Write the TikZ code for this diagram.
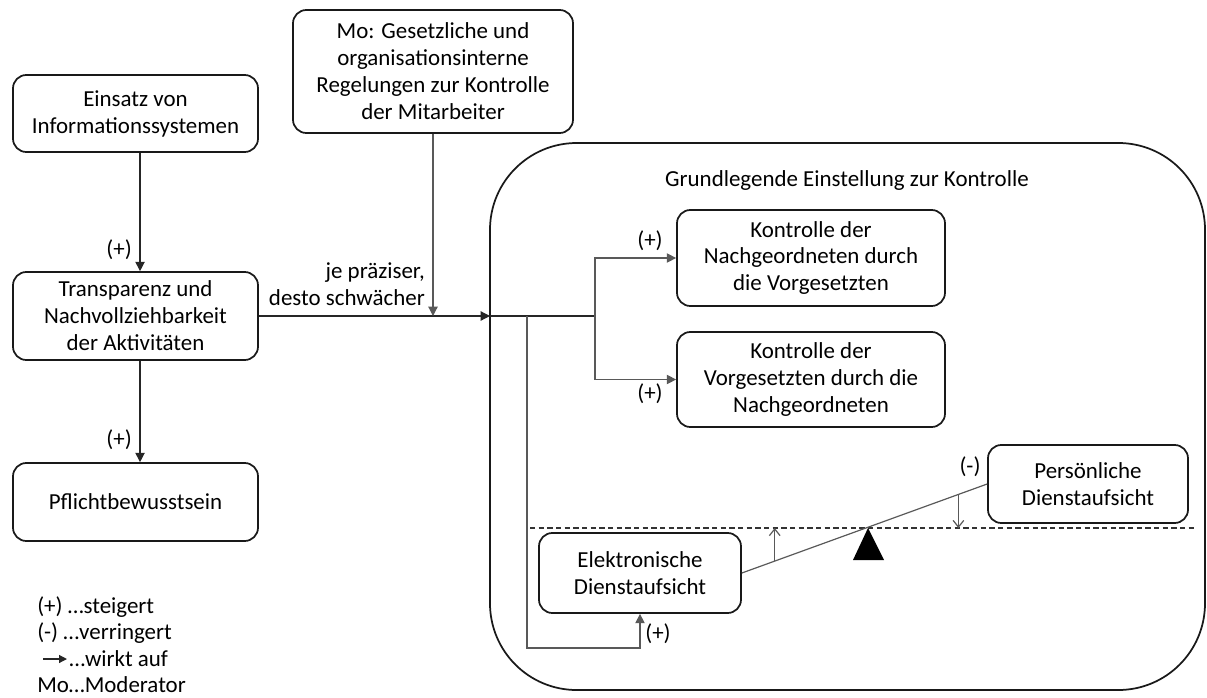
\documentclass[tikz,border=0pt]{standalone}
\usepackage{fontspec}
\setmainfont{Carlito}
\usetikzlibrary{arrows.meta,calc}
\begin{document}
\begin{tikzpicture}[x=0.75pt,y=-0.75pt,
  every node/.style={font=\fontsize{17.2}{20.2}\selectfont, inner sep=0pt},
  box/.style={draw=black!90, line width=1.3pt, rounded corners=10pt, align=center},
  conn/.style={draw=black!85, line width=0.9pt},
  thin/.style={draw=black!65, line width=0.9pt},
  tip/.style={-{Triangle[length=7pt,width=7pt]}},
  open/.style={-{Straight Barb[length=5pt,width=8pt]}}]
\useasboundingbox (0,0) rectangle (1207,697);

% outer frame of the attitude towards control
\draw[line width=1.3pt, black!90, rounded corners=65pt] (490,143) rectangle (1205,690);
\node (title) at (847,181) {Grundlegende Einstellung zur Kontrolle};

% left column
\node[box, minimum width=183.75pt, minimum height=57.75pt] (ein) at (135.5,113.5)
  {Einsatz von\\Informationssystemen};
\node[box, minimum width=183.75pt, minimum height=66pt] (tra) at (135.5,316)
  {Transparenz und\\Nachvollziehbarkeit\\der Aktivitäten};
\node[box, minimum width=183.75pt, minimum height=58.5pt] (pfl) at (135.5,502)
  {Pflichtbewusstsein};

% moderator
\node[box, minimum width=210pt, minimum height=92.25pt] (mo) at (433,71.5)
  {Mo: Gesetzliche und\\organisationsinterne\\Regelungen zur Kontrolle\\der Mitarbeiter};

% control boxes
\node[box, minimum width=201pt, minimum height=72pt] (kn) at (811,258)
  {Kontrolle der\\Nachgeordneten durch\\die Vorgesetzten};
\node[box, minimum width=201pt, minimum height=71.25pt] (kv) at (811,379.5)
  {Kontrolle der\\Vorgesetzten durch die\\Nachgeordneten};
\node[box, minimum width=150pt, minimum height=58.5pt] (pers) at (1088,484)
  {Persönliche\\Dienstaufsicht};
\node[box, minimum width=151.5pt, minimum height=60pt] (elek) at (640,573)
  {Elektronische\\Dienstaufsicht};

% connector points
\coordinate (bigL) at (490,316);
\coordinate (moT) at (433,316);
\coordinate (split) at (595,316);
\coordinate (loopS) at (527,316);
\coordinate (loopB) at (527,648);

% left column arrows
\draw[conn,tip] ([xshift=3.4pt]ein.south) -- ([xshift=3.4pt]tra.north);
\node[anchor=east] (p1) at (132,250) {(+)};
\draw[conn,tip] ([xshift=3.4pt]tra.south) -- ([xshift=3.4pt]pfl.north);
\node[anchor=east] (p2) at (132,440) {(+)};

% main effect into the frame
\draw[conn,tip] (tra.east) -- (bigL);
\draw[thin,tip] (mo.south) -- (moT);
\node[anchor=east, align=right] (mod) at (425,284) {je präziser,\\desto schwächer};

% branches inside the frame
\draw[conn] (bigL) -- (split);
\draw[thin,tip] (split) |- (kn.west);
\draw[thin,tip] (split) |- (kv.west);
\node (p3) at (650,241) {(+)};
\node (p4) at (650,394) {(+)};
\draw[thin,tip] (loopS) -- (loopB) -| (elek.south);
\node (p5) at (658,634) {(+)};

% seesaw
\coordinate (dl) at (530,528);
\coordinate (dr) at (1195,528);
\draw[black!80, line width=0.8pt, dash pattern=on 4pt off 2.5pt] (dl) -- (dr);
\draw[thin] (elek.east) -- (pers.west);
\fill (868,528) -- (884,560) -- (853,560) -- cycle;
\coordinate (upb) at ($(elek.east)!0.134!(pers.west)$);
\coordinate (dnb) at ($(elek.east)!0.883!(pers.west)$);
\draw[thin,open] (upb) -- (upb |- dl);
\draw[thin,open] (dnb) -- (dnb |- dl);
\node (m1) at (970,467) {(-)};

% legend
\node[anchor=west] (l1) at (37,607) {(+) …steigert};
\node[anchor=west] (l2) at (37,633) {(-) …verringert};
\node[anchor=west] (l3) at (69,659) {…wirkt auf};
\coordinate (la) at (43,659);
\draw[conn,-{Triangle[length=6pt,width=6pt]}] (la) -- ([xshift=-1.5pt]l3.west);
\node[anchor=west] (l4) at (37,685) {Mo…Moderator};
\end{tikzpicture}
\end{document}
